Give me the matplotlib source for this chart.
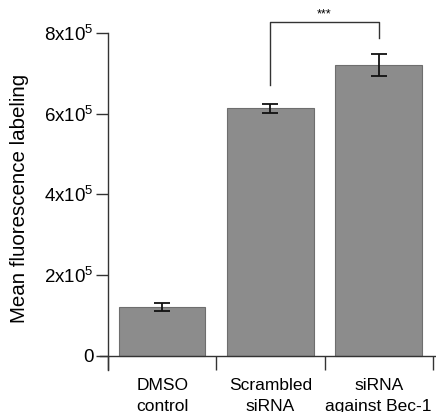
import numpy as np
import matplotlib
matplotlib.use('Agg')
import matplotlib.pyplot as plt
from matplotlib.ticker import FixedLocator

plt.rcParams['font.family'] = ['Liberation Sans', 'DejaVu Sans']
plt.rcParams['mathtext.fontset'] = 'custom'
plt.rcParams['mathtext.rm'] = 'Liberation Sans'
plt.rcParams['mathtext.it'] = 'Liberation Sans'

# data
groups = ['DMSO\ncontrol', 'Scrambled\nsiRNA', 'siRNA\nagainst Bec-1']
means = [1.21e5, 6.13e5, 7.20e5]
errs = [0.10e5, 0.12e5, 0.27e5]
yticks = [0, 2e5, 4e5, 6e5, 8e5]
yticklabels = ['0', '2x10$^5$', '4x10$^5$', '6x10$^5$', '8x10$^5$']
sig_pair = (1, 2)
sig_label = '***'
bracket_top = 8.27e5
bracket_legs = [6.7e5, 7.88e5]

fig = plt.figure(figsize=(4.36, 4.12), dpi=100)
ax = fig.add_axes([0.2294, 0.1019, 0.7706, 0.867])

x = np.arange(len(groups))
ax.bar(x, means, width=0.8, color='#8c8c8c', edgecolor='#6e6e6e', linewidth=0.8, zorder=2)
ax.errorbar(x, means, yerr=errs, fmt='none', ecolor='#111111', elinewidth=1.3,
            capsize=5.5, capthick=1.3, zorder=3)

# significance bracket
x1, x2 = sig_pair
ax.plot([x1, x1, x2, x2], [bracket_legs[0], bracket_top, bracket_top, bracket_legs[1]],
        color='#333333', lw=1.0, clip_on=False)
ax.text((x1 + x2) / 2, bracket_top + 0.04e5, sig_label, ha='center', va='bottom', fontsize=9)

ax.set_xlim(-0.574, 2.53)
ax.set_ylim(-0.35e5, 8.5e5)

# spines
for s in ['top', 'right']:
    ax.spines[s].set_visible(False)
ax.spines['left'].set_position(('data', -0.5))
ax.spines['left'].set_bounds(-0.35e5, 8e5)
ax.spines['bottom'].set_position(('data', 0))
for s in ['left', 'bottom']:
    ax.spines[s].set_color('#333333')
    ax.spines[s].set_linewidth(1.0)

ax.set_yticks(yticks)
ax.set_yticklabels(yticklabels, fontsize=13.5)
ax.tick_params(axis='y', length=8.6, width=1.0, color='#333333', pad=2)

ax.xaxis.set_major_locator(FixedLocator([-0.5, 0.5, 1.5, 2.5]))
ax.xaxis.set_minor_locator(FixedLocator(list(x)))
ax.tick_params(axis='x', which='major', length=10, width=1.0, color='#333333', labelbottom=False)
ax.set_xticks(x, minor=True)
ax.set_xticklabels(groups, minor=True, fontsize=12.5, linespacing=1.45)
ax.tick_params(axis='x', which='minor', length=0, pad=16)

ax.set_ylabel('Mean fluorescence labeling', fontsize=14.8)
ax.yaxis.set_label_coords(-0.21, 0.48)

fig.savefig('out.png', dpi=100)
